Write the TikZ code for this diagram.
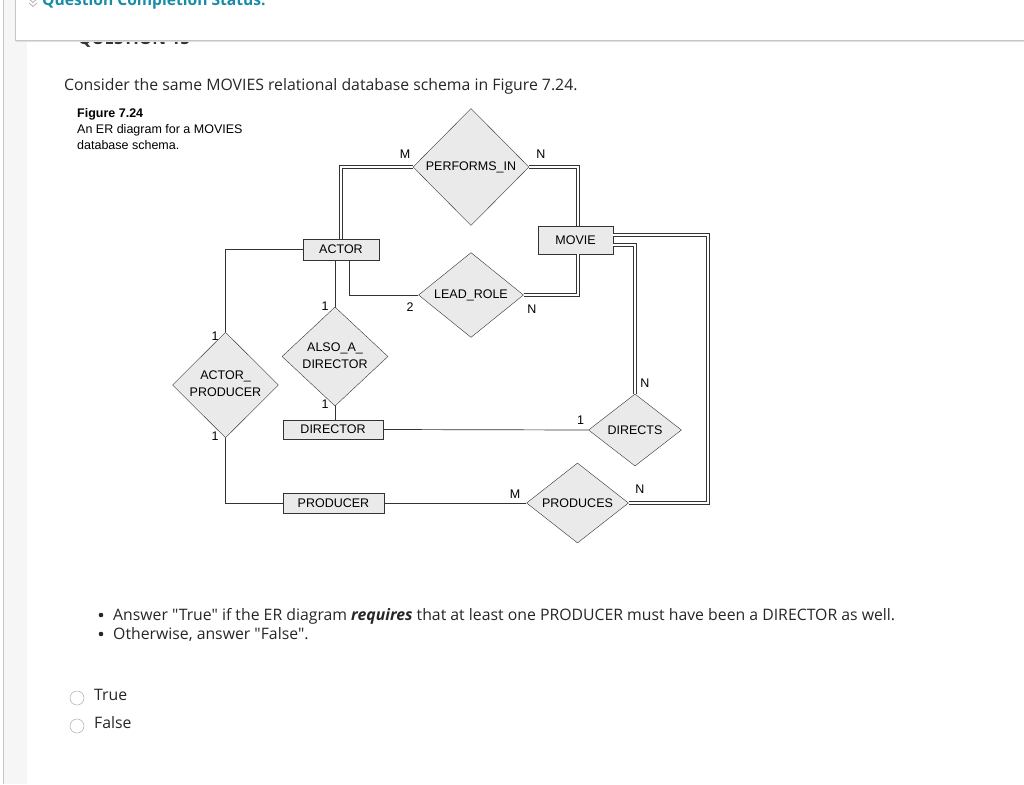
\documentclass[tikz,border=0pt]{standalone}
\usepackage{fontspec}
\setmainfont{Liberation Sans}
\newfontfamily\webfont{Open Sans}
\usetikzlibrary{shapes.geometric}
\definecolor{teal1}{RGB}{24,140,166}
\definecolor{boxfill}{RGB}{234,234,234}
\newcommand{\erfont}{\fontsize{12.5}{14}\selectfont}
\newcommand{\twolines}[3]{\raisebox{#3}{\fontsize{12.5}{17}\selectfont\begin{tabular}{@{}c@{}}#1\\#2\end{tabular}}}
\tikzset{
  entity/.style={draw=black!80, fill=boxfill, inner sep=0pt, font=\erfont},
  relation/.style={diamond, draw=black!80, fill=boxfill, inner sep=0pt, align=center, font=\erfont},
  card/.style={inner sep=0pt, font=\erfont},
  link/.style={draw=black!80, line width=0.7pt},
  total/.style={draw=black!80, line width=0.6pt, double=white, double distance=2.4pt, line join=miter},
  radio/.style={draw=gray!55, fill=white, line width=0.6pt},
  web/.style={anchor=base west, inner sep=0pt, text=black!85, font=\webfont\fontsize{15.8}{18}\selectfont}
}
\begin{document}
\begin{tikzpicture}[x=1pt, y=-1pt]
    \useasboundingbox (0,0) rectangle (1024,784);
    % page strip on the left
    \fill[gray!7] (3,0) rectangle (27,784);
    \draw[gray!45] (3,0) -- (3,784);

    % heading, half hidden by the status panel
    \node[anchor=base west, inner sep=0pt, text=black!80, font=\webfont\bfseries\fontsize{17}{20}\selectfont] (qnum) at (78,45) {QUESTION 15};
    \fill[white] (15,-5) rectangle (1030,40);
    \draw[gray!45] (15,-5) -- (15,40) -- (1030,40);
    \draw[gray!25] (16,41.2) -- (1030,41.2);
    \draw[gray!60, line width=0.8pt] (29,-1) -- (33,2.5) -- (37,-1);
    \draw[gray!60, line width=0.8pt] (29,3) -- (33,6.5) -- (37,3);
    \node[anchor=base west, inner sep=0pt, text=teal1, font=\webfont\bfseries\fontsize{15.6}{19}\selectfont] (status) at (42,6) {Question Completion Status:};

    \node[web] (intro) at (64,90) {Consider the same MOVIES relational database schema in Figure 7.24.};

    % caption of the figure
    \node[anchor=north west, inner sep=0pt, align=left, font=\fontsize{12.5}{16}\selectfont] (caption) at (77,108)
      {\textbf{Figure 7.24}\\An ER diagram for a MOVIES\\database schema.};

    % entities
    \node[entity, minimum width=76pt, minimum height=21pt] (actor) at (341,249.5) {ACTOR};
    \node[entity, minimum width=75pt, minimum height=28pt] (movie) at (575.5,240) {MOVIE};
    \node[entity, minimum width=100pt, minimum height=19pt] (director) at (333,429.5) {DIRECTOR};
    \node[entity, minimum width=101pt, minimum height=20pt] (producer) at (333.5,503) {PRODUCER};

    % relationships
    \node[relation, minimum width=116pt, minimum height=117pt] (performs) at (471,167) {\raisebox{1.5pt}{PERFORMS\_IN}};
    \node[relation, minimum width=105pt, minimum height=82pt] (leadrole) at (471,295) {\raisebox{-1pt}{LEAD\_ROLE}};
    \node[relation, minimum width=106pt, minimum height=81pt] (alsodir) at (335,356.5) {\twolines{ALSO\_A\_}{DIRECTOR}{1pt}};
    \node[relation, minimum width=106pt, minimum height=82pt] (actorprod) at (225.5,385) {\twolines{ACTOR\_}{PRODUCER}{4pt}};
    \node[relation, minimum width=93pt, minimum height=72pt] (directs) at (635,430) {DIRECTS};
    \node[relation, minimum width=102pt, minimum height=80pt] (produces) at (577.5,503) {PRODUCES};
    \coordinate (rim) at (708,0);

    % connectors
    \draw[total] (actor.north) |- (performs.west);
    \draw[total] (performs.east) -| ([xshift=2.5pt]movie.north);
    \draw[link] ([xshift=8pt]actor.south) |- (leadrole.west);
    \draw[total] (leadrole.east) -| ([xshift=2.5pt]movie.south);
    \draw[link] (alsodir.north |- actor.south) -- (alsodir.north);
    \draw[link] (alsodir.south) -- (alsodir.south |- director.north);
    \draw[link] (actor.west) -| (actorprod.north);
    \draw[link] (actorprod.south) |- (producer.west);
    \draw[link] (director.east) -- (directs.west);
    \draw[link] (producer.east) -- (produces.west);
    \draw[total] ([yshift=-5pt]movie.east) -| (directs.north);
    \draw[total] ([yshift=5pt]movie.east) -| (rim |- produces.east) -- (produces.east);

    % cardinalities
    \node[card] (cpm) at (405,154) {M};
    \node[card] (cpn) at (541,154) {N};
    \node[card] (clt) at (410,307) {2};
    \node[card] (cln) at (532,309) {N};
    \node[card] (cat) at (325,306.5) {1};
    \node[card] (cad) at (325,404) {1};
    \node[card] (cpt) at (215,336.5) {1};
    \node[card] (cpb) at (215,436) {1};
    \node[card] (cdl) at (580.5,420.5) {1};
    \node[card] (cdn) at (645,383) {N};
    \node[card] (cpl) at (515,494) {M};
    \node[card] (cpr) at (640,489) {N};

    % question and choices
    \fill[black!85] (101,615) circle (2.3);
    \fill[black!85] (101,634) circle (2.3);
    \node[web] (ask1) at (113,620)
      {Answer "True" if the ER diagram \textbf{\textit{requires}} that at least one PRODUCER must have been a DIRECTOR as well.};
    \node[web] (ask2) at (113,639) {Otherwise, answer "False".};
    \draw[radio] (77,698) circle (7);
    \draw[radio] (77,726) circle (7);
    \node[web] (optT) at (94,700) {True};
    \node[web] (optF) at (94,728) {False};
\end{tikzpicture}
\end{document}
